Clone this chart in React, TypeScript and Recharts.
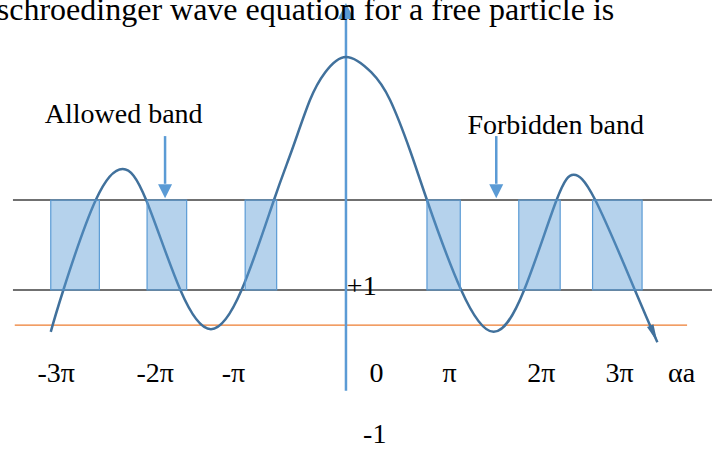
import React from 'react';
import {
  ComposedChart,
  Line,
  XAxis,
  YAxis,
  ReferenceLine,
  ReferenceArea,
  ReferenceDot,
} from 'recharts';

// f(αa) sketch, sampled along the curve (x in αa units, y in f units; ±1 are the band limits)
const curveX = [
  -3.28, -3.14, -2.78, -2.48, -2.22, -1.84, -1.5, -1.16, -0.8, -0.6, -0.4, -0.23, 0,
  0.28, 0.49, 0.71, 0.9, 1.28, 1.64, 1.98, 2.34, 2.53, 2.77, 3.21, 3.46,
];
const curveY = [
  -1.93, -1, 1, 1.69, 1, -1, -1.87, -1, 1, 2.11, 3.22, 3.84, 4.18,
  3.84, 3.22, 2.11, 1, -1, -1.93, -1, 1, 1.56, 1, -1, -2.16,
];

// allowed bands (x ranges between f = -1 and f = +1)
const bandStart = [-3.28, -2.21, -1.12, 0.9, 1.92, 2.74];
const bandEnd = [-2.74, -1.77, -0.77, 1.27, 2.38, 3.29];

const tickLabels = ['-3π', '-2π', '-π', '0', 'π', '2π', '3π', 'αa'];
const tickPos = [-3.22, -2.12, -1.25, 0.34, 1.15, 2.17, 3.04, 3.73];

const lowerLimit = -1.78;

const X_DOMAIN: [number, number] = [-3.844, 4.067];
const Y_DOMAIN: [number, number] = [-4.533, 5.444];
const W = 712;
const H = 449;
const MARGIN = { top: 0, right: 0, bottom: 0, left: 0 };
const PX_X = W / (X_DOMAIN[1] - X_DOMAIN[0]);
const PX_Y = H / (Y_DOMAIN[1] - Y_DOMAIN[0]);

const SERIF = '"Liberation Serif", "Times New Roman", serif';
const AXIS_BLUE = '#5B9BD5';
const CURVE_BLUE = '#41719C';

const curveData = curveX.map((x, i) => ({ x, y: curveY[i] }));

const textShape =
  (label: string, anchor: 'start' | 'middle' | 'end', size: number) =>
  (p: any) => (
    <text x={p.cx} y={p.cy} textAnchor={anchor} fontSize={size} fontFamily={SERIF} fill="#000">
      {label}
    </text>
  );

const arrowHead = (dir: 'up' | 'down', half: number, len: number) => (p: any) => {
  const s = dir === 'up' ? 1 : -1;
  const pts = `${p.cx},${p.cy} ${p.cx - half},${p.cy + s * len} ${p.cx + half},${p.cy + s * len}`;
  return <polygon points={pts} fill={AXIS_BLUE} />;
};

// narrow arrowhead at the end of the curve, pointing along the last segment
const renderCurveEnd = (props: any) => {
  const { index, cx, cy } = props;
  const n = curveX.length - 1;
  if (index !== n) return <g key={`d-${index}`} />;
  const dx = (curveX[n] - curveX[n - 1]) * PX_X;
  const dy = -(curveY[n] - curveY[n - 1]) * PX_Y;
  const len = Math.hypot(dx, dy);
  const ux = dx / len;
  const uy = dy / len;
  const bx = cx - ux * 18;
  const by = cy - uy * 18;
  const pts = `${cx},${cy} ${bx - uy * 3.5},${by + ux * 3.5} ${bx + uy * 3.5},${by - ux * 3.5}`;
  return <polygon key={`d-${index}`} points={pts} fill={CURVE_BLUE} />;
};

const layer: React.CSSProperties = { position: 'absolute', left: 0, top: 0 };

export default function App() {
  return (
    <div style={{ position: 'absolute', left: 0, top: 0, width: W, height: H, background: '#fff' }}>
      {/* base layer: limits, axis, curve, labels */}
      <div style={layer}>
        <ComposedChart width={W} height={H} data={curveData} margin={MARGIN}>
          <XAxis type="number" dataKey="x" domain={X_DOMAIN} allowDataOverflow hide />
          <YAxis type="number" domain={Y_DOMAIN} allowDataOverflow hide />

          <ReferenceLine
            segment={[{ x: -3.7, y: 1 }, { x: X_DOMAIN[1], y: 1 }]}
            stroke="#404040"
            strokeWidth={1.5}
            ifOverflow="visible"
          />
          <ReferenceLine
            segment={[{ x: -3.7, y: -1 }, { x: X_DOMAIN[1], y: -1 }]}
            stroke="#404040"
            strokeWidth={1.5}
            ifOverflow="visible"
          />
          <ReferenceLine
            segment={[{ x: -3.68, y: lowerLimit }, { x: 3.79, y: lowerLimit }]}
            stroke="#ED7D31"
            strokeWidth={1.2}
            ifOverflow="visible"
          />

          {/* vertical axis with arrow */}
          <ReferenceLine
            segment={[{ x: 0, y: -3.24 }, { x: 0, y: 5.02 }]}
            stroke={AXIS_BLUE}
            strokeWidth={2.5}
            ifOverflow="visible"
          />
          <ReferenceDot x={0} y={5.38} r={0} ifOverflow="visible" shape={arrowHead('up', 8, 16)} />

          <Line
            type="natural"
            dataKey="y"
            stroke={CURVE_BLUE}
            strokeWidth={2.5}
            dot={renderCurveEnd}
            activeDot={false}
            isAnimationActive={false}
          />

          {/* callout arrows */}
          <ReferenceLine
            segment={[{ x: -2.01, y: 2.42 }, { x: -2.01, y: 1.36 }]}
            stroke={AXIS_BLUE}
            strokeWidth={2.5}
            ifOverflow="visible"
          />
          <ReferenceDot x={-2.01} y={1.04} r={0} ifOverflow="visible" shape={arrowHead('down', 7, 14)} />
          <ReferenceLine
            segment={[{ x: 1.67, y: 2.42 }, { x: 1.67, y: 1.36 }]}
            stroke={AXIS_BLUE}
            strokeWidth={2.5}
            ifOverflow="visible"
          />
          <ReferenceDot x={1.67} y={1.04} r={0} ifOverflow="visible" shape={arrowHead('down', 7, 14)} />

          <ReferenceDot x={-2.47} y={2.71} r={0} ifOverflow="visible" shape={textShape('Allowed band', 'middle', 28)} />
          <ReferenceDot x={2.33} y={2.47} r={0} ifOverflow="visible" shape={textShape('Forbidden band', 'middle', 28)} />
          <ReferenceDot
            x={-3.88}
            y={5.01}
            r={0}
            ifOverflow="visible"
            shape={textShape('schroedinger wave equation for a free particle is', 'start', 32)}
          />
          <ReferenceDot x={0.01} y={-1.11} r={0} ifOverflow="visible" shape={textShape('+1', 'start', 28)} />
          <ReferenceDot x={0.32} y={-4.4} r={0} ifOverflow="visible" shape={textShape('-1', 'middle', 28)} />

          {tickLabels.map((t, i) => (
            <ReferenceDot
              key={`tick-${i}`}
              x={tickPos[i]}
              y={-3.04}
              r={0}
              ifOverflow="visible"
              shape={textShape(t, 'middle', 28)}
            />
          ))}
        </ComposedChart>
      </div>

      {/* top layer: translucent allowed bands over the curve */}
      <div style={layer}>
        <ComposedChart width={W} height={H} data={curveData} margin={MARGIN}>
          <XAxis type="number" dataKey="x" domain={X_DOMAIN} allowDataOverflow hide />
          <YAxis type="number" domain={Y_DOMAIN} allowDataOverflow hide />
          {bandStart.map((x1, i) => (
            <ReferenceArea
              key={`band-${i}`}
              x1={x1}
              x2={bandEnd[i]}
              y1={-1}
              y2={1}
              fill={AXIS_BLUE}
              fillOpacity={0.45}
              stroke={AXIS_BLUE}
              strokeWidth={1.2}
              strokeOpacity={1}
              ifOverflow="visible"
            />
          ))}
        </ComposedChart>
      </div>
    </div>
  );
}
